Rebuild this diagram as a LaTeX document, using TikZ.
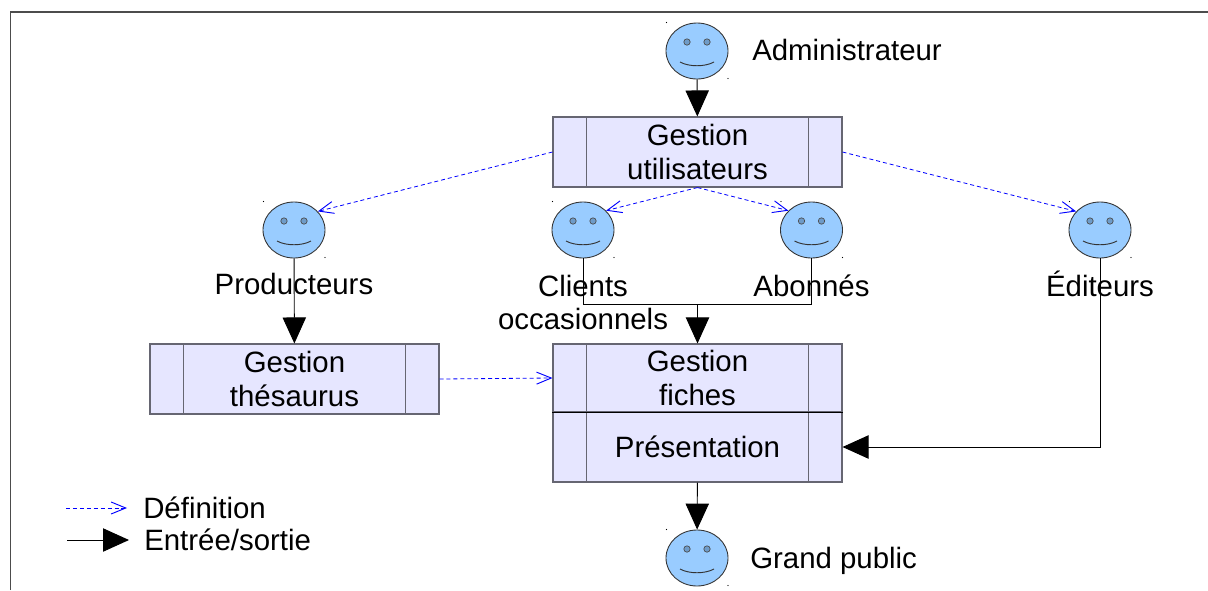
\documentclass[tikz,border=0pt]{standalone}
\usepackage{fontspec}
\setmainfont{Liberation Sans}
\usetikzlibrary{arrows.meta,shapes.geometric}
\definecolor{boxfill}{HTML}{E6E6FF}
\definecolor{boxline}{HTML}{666672}
\definecolor{facefill}{HTML}{99CCFF}
\definecolor{eyefill}{HTML}{6E9BC8}
\tikzset{
  label text/.style={inner sep=0pt, align=center, font=\fontsize{22.05}{25}\selectfont},
  gestion/.style={rectangle, draw=boxline, fill=boxfill, line width=0.8pt, minimum width=216.75pt, minimum height=52.5pt, inner sep=0pt, align=center, font=\fontsize{22.05}{25}\selectfont},
  visage/.style={ellipse, draw=black!80, fill=facefill, line width=0.65pt, minimum width=46.5pt, minimum height=42pt, inner sep=0pt},
  entree/.style={-{Triangle[length=19.5pt, width=17.5pt]}, black, line width=0.7pt},
  definition/.style={-{Straight Barb[length=11pt, width=9pt, line width=0.7pt]}, blue, line width=0.6pt, dash pattern=on 3pt off 2.2pt}
}
% one smiling face, named #1, centred on (#2,#3)
\newcommand{\visageat}[3]{
  \node[visage] at (#2,#3) (#1) {};
  \begin{scope}[shift={(#2,#3)}]
    \draw[black!70, fill=eyefill, line width=0.5pt] (-10,-9) circle (2.4pt);
    \draw[black!70, fill=eyefill, line width=0.5pt] (10,-9) circle (2.4pt);
    \draw[black!80, line width=0.7pt] (-17,11) .. controls (-8,16) and (8,16) .. (17,11);
    \fill[black] (-30.5,-28.5) circle (0.4pt);
    \fill[black] (31,27.5) circle (0.4pt);
  \end{scope}
}
\begin{document}
\begin{tikzpicture}[x=0.75pt, y=-0.75pt]
  \useasboundingbox (0,0) rectangle (1208,590);
  \fill[white] (0,0) rectangle (1208,590);
  \draw[black!70, line width=0.8pt] (10.5,590) -- (10.5,12) -- (1208,12);

  \visageat{administrateur}{697}{51}
  \visageat{producteurs}{294}{230}
  \visageat{clients}{583}{230}
  \visageat{abonnes}{811.5}{230}
  \visageat{editeurs}{1100}{230}
  \visageat{public}{697}{558}

  \node[gestion] at (697.5,152) (utilisateurs) {Gestion\\utilisateurs};
  \node[gestion] at (294.5,379) (thesaurus) {Gestion\\thésaurus};
  \node[gestion, minimum height=51pt] at (697.5,378) (fiches) {Gestion\\fiches};
  \node[gestion] at (697.5,447) (presentation) {Présentation};

  \foreach \boite in {utilisateurs,thesaurus,fiches,presentation} {
    \draw[boxline, line width=0.8pt] ([xshift=25.5pt]\boite.north west) -- ([xshift=25.5pt]\boite.south west);
    \draw[boxline, line width=0.8pt] ([xshift=-25.5pt]\boite.north east) -- ([xshift=-25.5pt]\boite.south east);
  }
  \draw[black, line width=0.8pt] (fiches.south west) -- (fiches.south east);

  \coordinate (jonction) at (697.5,304.5);
  \coordinate (coude) at (editeurs |- presentation);
  \coordinate (legende1) at (66,508);
  \coordinate (legende1b) at (127,508);
  \coordinate (legende2) at (67,540);
  \coordinate (legende2b) at (129,540);

  \draw[entree] (administrateur) -- (utilisateurs);
  \draw[entree] (producteurs) -- (thesaurus);
  \draw[black, line width=0.7pt] (clients) |- (jonction);
  \draw[black, line width=0.7pt] (abonnes) |- (jonction);
  \draw[entree] (jonction) -- (fiches);
  \draw[entree] (editeurs) -- (coude) -- (presentation);
  \draw[entree] (presentation) -- (public);

  \draw[definition] (utilisateurs.west) -- (producteurs.38);
  \draw[definition] (utilisateurs.east) -- (editeurs.142);
  \draw[definition] (utilisateurs.south) -- (clients.40);
  \draw[definition] (utilisateurs.south) -- (abonnes.140);
  \draw[definition] (thesaurus.east) -- (fiches.west);

  \node[label text, anchor=base west] at (752,60.5) (administrateurtxt) {Administrateur};
  \node[label text, anchor=base west] at (750,568) (publictxt) {Grand public};
  \node[label text, anchor=base] at (294,294) (producteurstxt) {Producteurs};
  \node[label text, anchor=base] at (583,296) (clientstxt) {Clients};
  \node[label text, anchor=base] at (583,329) (occasionnelstxt) {occasionnels};
  \node[label text, anchor=base] at (811.5,296) (abonnestxt) {Abonnés};
  \node[label text, anchor=base] at (1100,296) (editeurstxt) {Éditeurs};

  \draw[definition] (legende1) -- (legende1b);
  \draw[entree] (legende2) -- (legende2b);
  \node[label text, anchor=base west] at (143,518) (definitiontxt) {Définition};
  \node[label text, anchor=base west] at (144,550) (entreetxt) {Entrée/sortie};
\end{tikzpicture}
\end{document}
